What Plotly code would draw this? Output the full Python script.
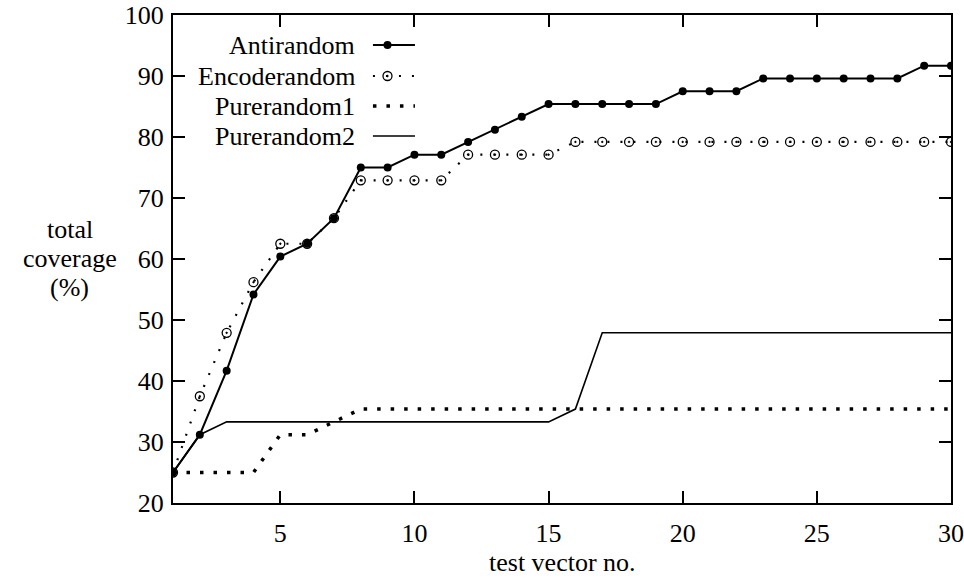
import plotly.graph_objects as go

x = list(range(1, 31))
antirandom = [25.0, 31.2, 41.7, 54.2, 60.4, 62.5, 66.7, 75.0, 75.0, 77.1,
              77.1, 79.2, 81.2, 83.3, 85.4, 85.4, 85.4, 85.4, 85.4, 87.5,
              87.5, 87.5, 89.6, 89.6, 89.6, 89.6, 89.6, 89.6, 91.7, 91.7]
encoderandom = [25.0, 37.5, 47.9, 56.2, 62.5, 62.5, 66.7, 72.9, 72.9, 72.9,
                72.9, 77.1, 77.1, 77.1, 77.1, 79.2, 79.2, 79.2, 79.2, 79.2,
                79.2, 79.2, 79.2, 79.2, 79.2, 79.2, 79.2, 79.2, 79.2, 79.2]
purerandom1 = [25.0, 25.0, 25.0, 25.0, 31.2, 31.2, 33.3, 35.4, 35.4, 35.4,
               35.4, 35.4, 35.4, 35.4, 35.4, 35.4, 35.4, 35.4, 35.4, 35.4,
               35.4, 35.4, 35.4, 35.4, 35.4, 35.4, 35.4, 35.4, 35.4, 35.4]
purerandom2 = [25.0, 31.2, 33.3, 33.3, 33.3, 33.3, 33.3, 33.3, 33.3, 33.3,
               33.3, 33.3, 33.3, 33.3, 33.3, 35.4, 47.9, 47.9, 47.9, 47.9,
               47.9, 47.9, 47.9, 47.9, 47.9, 47.9, 47.9, 47.9, 47.9, 47.9]
series_names = ["Antirandom", "Encoderandom", "Purerandom1", "Purerandom2"]
x_ticks = [5, 10, 15, 20, 25, 30]
y_ticks = [20, 30, 40, 50, 60, 70, 80, 90, 100]
x_title = "test vector no."
y_title_lines = ["total", "coverage", "(%)"]

FONT = "'Liberation Serif', 'Times New Roman', serif"
FS = 26

enc_line = dict(color="black", width=2.2, dash="2px,11px")
p1_line = dict(color="black", width=3.5, dash="3.5px,10px")
anti_marker = dict(symbol="circle", size=8, color="black")
enc_marker = dict(symbol="circle-open-dot", size=9, color="black", line=dict(width=1.3, color="black"))

fig = go.Figure()
fig.add_trace(go.Scatter(x=x, y=purerandom2, mode="lines",
                         line=dict(color="black", width=1.6), showlegend=False))
fig.add_trace(go.Scatter(x=x, y=purerandom1, mode="lines",
                         line=p1_line, showlegend=False))
fig.add_trace(go.Scatter(x=x, y=encoderandom, mode="lines+markers",
                         line=enc_line, marker=enc_marker, showlegend=False))
fig.add_trace(go.Scatter(x=x, y=antirandom, mode="lines+markers",
                         line=dict(color="black", width=2), marker=anti_marker,
                         showlegend=False))

# manual gnuplot-style key (text left of sample), on an overlay axis in plot fractions
rows = [0.9385, 0.875, 0.8135, 0.752]
sx0, sx1, smk = 0.257, 0.311, 0.2757
styles = [
    dict(mode="lines", line=dict(color="black", width=2)),
    dict(mode="lines", line=enc_line),
    dict(mode="lines", line=p1_line),
    dict(mode="lines", line=dict(color="black", width=1.6)),
]
for name, ry, st in zip(series_names, rows, styles):
    fig.add_trace(go.Scatter(x=[sx0, sx1], y=[ry, ry], xaxis="x2", yaxis="y2",
                             showlegend=False, hoverinfo="skip", **st))
    fig.add_annotation(x=0.2365, y=ry, xref="paper", yref="paper", text=name,
                       showarrow=False, xanchor="right", yanchor="middle",
                       font=dict(family=FONT, size=FS, color="black"))
fig.add_trace(go.Scatter(x=[smk], y=[rows[0]], xaxis="x2", yaxis="y2", mode="markers",
                         marker=anti_marker, showlegend=False, hoverinfo="skip"))
fig.add_trace(go.Scatter(x=[smk], y=[rows[1]], xaxis="x2", yaxis="y2", mode="markers",
                         marker=enc_marker, showlegend=False, hoverinfo="skip"))

axis_common = dict(showgrid=False, zeroline=False, showline=True, linecolor="black",
                   linewidth=2, mirror="ticks", ticks="inside", ticklen=12,
                   tickwidth=2, tickcolor="black", automargin=False,
                   ticklabeloverflow="allow",
                   tickfont=dict(family=FONT, size=FS, color="black"))
fig.update_layout(
    width=964, height=578,
    margin=dict(l=173, r=13, t=15, b=75, autoexpand=False),
    plot_bgcolor="white", paper_bgcolor="white",
    xaxis=dict(range=[1, 30], tickvals=x_ticks, ticktext=[str(v) for v in x_ticks],
               ticklabelstandoff=6, **axis_common),
    yaxis=dict(range=[20, 100], tickvals=y_ticks, ticktext=[str(v) for v in y_ticks],
               ticklabelstandoff=2, **axis_common),
    xaxis2=dict(range=[0, 1], overlaying="x", visible=False),
    yaxis2=dict(range=[0, 1], overlaying="y", visible=False),
)
fig.add_annotation(x=0.5, y=-0.121, xref="paper", yref="paper", text=x_title,
                   showarrow=False, xanchor="center", yanchor="middle",
                   font=dict(family=FONT, size=FS, color="black"))
for line_text, wy in zip(y_title_lines, [229, 258, 287]):
    fig.add_annotation(x=-0.1324, y=(503 - wy) / 488, xref="paper", yref="paper",
                       text=line_text, showarrow=False,
                       xanchor="center", yanchor="middle",
                       font=dict(family=FONT, size=FS, color="black"))
fig.write_html(
    "out.html",
    config={"displayModeBar": False},
    post_script="document.body.style.margin='0';document.body.style.overflow='hidden';",
)
